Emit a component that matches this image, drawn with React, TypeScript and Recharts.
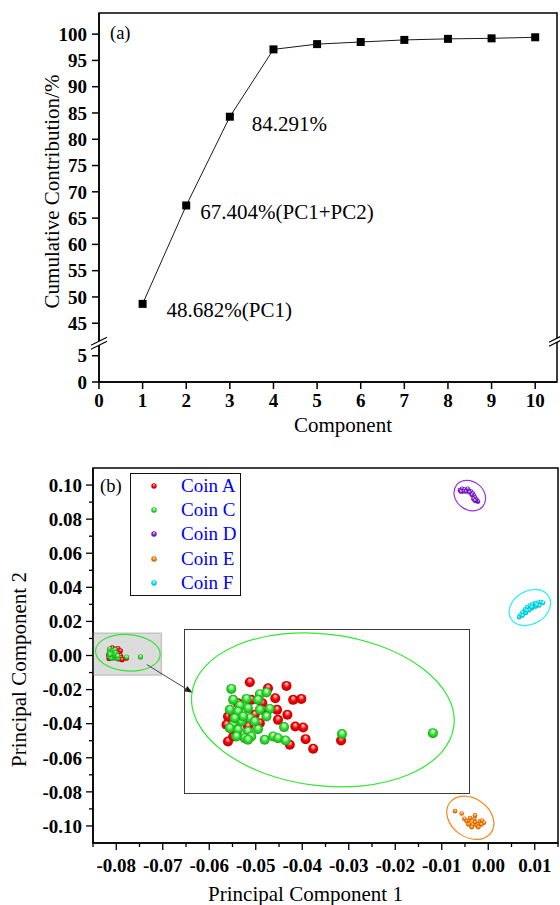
import React from "react";
import {
  LineChart,
  Line,
  ScatterChart,
  Scatter,
  XAxis,
  YAxis,
  ReferenceArea,
  ReferenceDot,
  ReferenceLine,
  Legend,
} from "recharts";

const FONT = "'Times New Roman', 'Liberation Serif', serif";

// ---- (a) cumulative contribution ----
const components = [1, 2, 3, 4, 5, 6, 7, 8, 9, 10];
const cumulative = [48.682, 67.404, 84.291, 97.1, 98.1, 98.5, 98.9, 99.1, 99.2, 99.4];
const xTicksA = [0, 1, 2, 3, 4, 5, 6, 7, 8, 9, 10];
const yTicksA = [0, 5, 45, 50, 55, 60, 65, 70, 75, 80, 85, 90, 95, 100];
const notes = ["48.682%(PC1)", "67.404%(PC1+PC2)", "84.291%"];
// pixel offset of each note from its point
const noteOffsets = [
  [24, 6],
  [14, 7],
  [22, 7],
];

// broken axis: the 5..45 gap is squeezed
const BREAK_SHIFT = 33.82;
const toAxis = (v: number) => (v > 20 ? v - BREAK_SHIFT : v);
const fromAxis = (t: number) => (t > 8 ? t + BREAK_SHIFT : t);

// ---- (b) PCA scores ----
const coinA = [
  [-0.08083, 0.00442], [-0.08023, 0.0038], [-0.07962, 0.00404], [-0.07999, 0.00277],
  [-0.0794, 0.0026], [-0.07913, 0.0027], [-0.07993, 0.00157], [-0.07959, 0.00106],
  [-0.0799, 0.00054], [-0.07933, -0.00015], [-0.07907, -0.00025], [-0.07899, -0.00145],
  [-0.07951, -0.00203], [-0.07874, -0.00244], [-0.07782, -0.00159], [-0.08155, -0.00169],
  [-0.08155, 0.00088], [-0.0816, 0.00003], [-0.08138, 0.00106], [-0.08122, 0.00226],
  [-0.08078, 0.0026], [-0.08042, 0.00226], [-0.0805, 0.0002], [-0.08138, -0.00117],
  [-0.08127, -0.00083], [-0.08067, 0.00106], [-0.08039, 0.00157], [-0.08089, -0.00015],
];
const coinC = [
  [-0.08144, 0.00373], [-0.08138, 0.0026], [-0.08116, 0.002], [-0.08094, 0.0027],
  [-0.0805, 0.00318], [-0.08028, 0.00335], [-0.08056, 0.0026], [-0.08149, 0.00157],
  [-0.08122, 0.0014], [-0.08089, 0.00174], [-0.0805, 0.00157], [-0.08017, 0.00167],
  [-0.08028, 0.00088], [-0.08083, 0.00071], [-0.08111, 0.00037], [-0.08138, 0.00003],
  [-0.08149, -0.00032], [-0.08122, -0.00049], [-0.08089, -0.00066], [-0.08056, -0.00042],
  [-0.08078, -0.00117], [-0.081, -0.00135], [-0.08127, -0.00117], [-0.08089, -0.00152],
  [-0.08034, -0.00152], [-0.08006, -0.00117], [-0.0799, -0.00135], [-0.07965, -0.00159],
  [-0.0797, -0.00021], [-0.07779, -0.00093], [-0.07479, -0.00083], [-0.08067, 0.00037],
  [-0.08105, 0.00088], [-0.08133, 0.00071],
];
const coinD = [
  [-0.00607, 0.097], [-0.00564, 0.0978], [-0.00514, 0.0974], [-0.00464, 0.097],
  [-0.00414, 0.0966], [-0.00371, 0.0962], [-0.00335, 0.0952], [-0.00307, 0.0939],
  [-0.00285, 0.0925], [-0.00249, 0.0913], [-0.00221, 0.0903], [-0.00264, 0.0907],
  [-0.00321, 0.0919], [-0.00356, 0.0943], [-0.00407, 0.0958], [-0.00485, 0.0962],
  [-0.00549, 0.0962], [-0.00592, 0.0962], [-0.00442, 0.0978], [-0.00292, 0.0909],
];
const coinE = [
  [-0.00714, -0.0913], [-0.00571, -0.0927], [-0.00514, -0.0958], [-0.00464, -0.0973],
  [-0.00414, -0.0968], [-0.00378, -0.0983], [-0.00335, -0.0993], [-0.00285, -0.0977],
  [-0.00249, -0.0997], [-0.00206, -0.0987], [-0.00178, -0.0973], [-0.00135, -0.0968],
  [-0.00092, -0.0981], [-0.00149, -0.0991], [-0.00299, -0.0958], [-0.00356, -0.1007],
  [-0.00428, -0.0991], [-0.00214, -0.1007], [-0.00285, -0.0938], [-0.00392, -0.0954],
];
const coinF = [
  [0.00665, 0.0225], [0.00694, 0.0239], [0.00737, 0.0254], [0.00787, 0.027],
  [0.00837, 0.0284], [0.00894, 0.0293], [0.00951, 0.0301], [0.01008, 0.0307],
  [0.01072, 0.0311], [0.0113, 0.0313], [0.0118, 0.0309], [0.00737, 0.0235],
  [0.00808, 0.025], [0.0088, 0.0266], [0.00951, 0.0278], [0.01023, 0.0288],
  [0.01094, 0.0293], [0.00823, 0.0264], [0.0093, 0.0284], [0.01037, 0.0299],
];
const xTicksB = [
  -0.085, -0.08, -0.075, -0.07, -0.065, -0.06, -0.055, -0.05, -0.045, -0.04, -0.035,
  -0.03, -0.025, -0.02, -0.015, -0.01, -0.005, 0, 0.005, 0.01, 0.015,
];
const yTicksB = [
  -0.1, -0.09, -0.08, -0.07, -0.06, -0.05, -0.04, -0.03, -0.02, -0.01, 0,
  0.01, 0.02, 0.03, 0.04, 0.05, 0.06, 0.07, 0.08, 0.09, 0.1,
];
// confidence ellipses: centre, semi-axes (data units), tilt in degrees
const ellipsesMain = [
  { cx: -0.0775, cy: 0.0016, rx: 0.00697, ry: 0.0107, angle: 4, color: "#33e633" },
  { cx: -0.00397, cy: 0.0938, rx: 0.00364, ry: 0.00821, angle: 40, color: "#9a32e6" },
  { cx: 0.00894, cy: 0.02815, rx: 0.00472, ry: 0.00968, angle: -30, color: "#22eef5" },
  { cx: -0.00386, cy: -0.0952, rx: 0.00549, ry: 0.01132, angle: 36, color: "#f7861c" },
];
const ellipseInset = { cx: -0.07842, cy: 0.00157, rx: 0.004354, ry: 0.00782, angle: 7, color: "#33e633" };
const zoomBox = { x1: -0.085, x2: -0.0703, y1: -0.0114, y2: 0.0131 };
const arrow = [
  { x: -0.07344, y: -0.00528 },
  { x: -0.06358, y: -0.02188 },
];
const insetX = [-0.083, -0.0736];
const insetY = [-0.007, 0.0098];

const coins = [
  { name: "Coin A", data: coinA, id: "red", color: "#ff0000", light: "#ff9090", dark: "#b80000" },
  { name: "Coin C", data: coinC, id: "green", color: "#33e633", light: "#b0ffb0", dark: "#1ca01c" },
  { name: "Coin D", data: coinD, id: "purple", color: "#8a1fe0", light: "#d6a8ff", dark: "#5a0a9a" },
  { name: "Coin E", data: coinE, id: "orange", color: "#ff8000", light: "#ffc890", dark: "#c05a00" },
  { name: "Coin F", data: coinF, id: "cyan", color: "#00f0ff", light: "#c0ffff", dark: "#00aabb" },
];

const toPoints = (pairs: number[][]) => pairs.map(([x, y]) => ({ x, y }));

const tickStyle = { fill: "#000", fontSize: 19, fontWeight: 700, fontFamily: FONT };
const axisStroke = { stroke: "#000", strokeWidth: 1.5 };

const Gradients = () => (
  <defs>
    {coins.map((c) => (
      <radialGradient key={c.id} id={`ball-${c.id}`} cx="0.5" cy="0.5" r="0.5" fx="0.5" fy="0.25">
        <stop offset="0" stopColor="#ffffff" />
        <stop offset="0.22" stopColor={c.light} />
        <stop offset="0.55" stopColor={c.color} />
        <stop offset="1" stopColor={c.dark} />
      </radialGradient>
    ))}
  </defs>
);

const ballShape = (id: string, color: string, r: number) => (p: any) => (
  <circle cx={p.cx} cy={p.cy} r={r} fill={`url(#ball-${id}) ${color}`} />
);

const ellipseShape = (e: any) => (p: any) => {
  const cx = p.x + p.width / 2;
  const cy = p.y + p.height / 2;
  return (
    <ellipse
      cx={cx}
      cy={cy}
      rx={Math.abs(p.width / 2)}
      ry={Math.abs(p.height / 2)}
      transform={`rotate(${e.angle} ${cx} ${cy})`}
      fill="none"
      stroke={e.color}
      strokeWidth={1.2}
    />
  );
};

const squareDot = (p: any) => (
  <rect key={`sq-${p.index}`} x={p.cx - 4} y={p.cy - 4} width={8} height={8} fill="#000" />
);

const BreakMark = (p: any) => {
  const { cx, cy } = p;
  return (
    <g>
      <polygon
        points={`${cx - 8},${cy + 2} ${cx + 8},${cy - 6} ${cx + 8},${cy - 2} ${cx - 8},${cy + 6}`}
        fill="#fff"
      />
      <line x1={cx - 8} y1={cy + 2} x2={cx + 8} y2={cy - 6} stroke="#000" strokeWidth={1.2} />
      <line x1={cx - 8} y1={cy + 6} x2={cx + 8} y2={cy - 2} stroke="#000" strokeWidth={1.2} />
    </g>
  );
};

const ArrowShape = (p: any) => {
  const { x1, y1, x2, y2 } = p;
  const a = Math.atan2(y2 - y1, x2 - x1);
  const L = 8;
  const W = 3;
  const bx = x2 - L * Math.cos(a);
  const by = y2 - L * Math.sin(a);
  const nx = -Math.sin(a) * W;
  const ny = Math.cos(a) * W;
  return (
    <g>
      <line x1={x1} y1={y1} x2={bx} y2={by} stroke="#333" strokeWidth={0.9} />
      <polygon points={`${x2},${y2} ${bx + nx},${by + ny} ${bx - nx},${by - ny}`} fill="#222" />
    </g>
  );
};

const xTitle = (text: string, dx: number, dy: number) => (props: any) => {
  const vb = props.viewBox;
  return (
    <text
      x={vb.x + vb.width / 2 + dx}
      y={vb.y + dy}
      textAnchor="middle"
      dominantBaseline="central"
      fontSize={21}
      fontFamily={FONT}
      fill="#000"
    >
      {text}
    </text>
  );
};

const yTitle = (text: string, x: number, dy: number) => (props: any) => {
  const vb = props.viewBox;
  const cx = vb.x + x;
  const cy = vb.y + vb.height / 2 + dy;
  return (
    <text
      x={cx}
      y={cy}
      transform={`rotate(-90 ${cx} ${cy})`}
      textAnchor="middle"
      dominantBaseline="central"
      fontSize={21}
      fontFamily={FONT}
      fill="#000"
    >
      {text}
    </text>
  );
};

const isMajor = (v: number, step: number) => {
  const k = v / step;
  return Math.abs(k - Math.round(k)) < 1e-6;
};

const X_TICK = 7;
const X_MARGIN = 9;
const XTickB = (p: any) => {
  const v = p.payload.value;
  const major = isMajor(v, 0.01);
  const axisY = p.y - X_TICK - X_MARGIN;
  return (
    <g>
      <line x1={p.x} x2={p.x} y1={axisY} y2={axisY + (major ? 7 : 4)} stroke="#000" strokeWidth={1.3} />
      {major && (
        <text x={p.x} y={p.y} dy="0.71em" textAnchor="middle" {...tickStyle}>
          {v.toFixed(2)}
        </text>
      )}
    </g>
  );
};

const Y_TICK = 7;
const Y_MARGIN = 4;
const YTickB = (p: any) => {
  const v = p.payload.value;
  const major = isMajor(v, 0.02);
  const axisX = p.x + Y_TICK + Y_MARGIN;
  return (
    <g>
      <line x1={axisX - (major ? 7 : 4)} x2={axisX} y1={p.y} y2={p.y} stroke="#000" strokeWidth={1.3} />
      {major && (
        <text x={p.x} y={p.y} dy="0.355em" textAnchor="end" {...tickStyle}>
          {v.toFixed(2)}
        </text>
      )}
    </g>
  );
};

const LegendBox = (props: any) => (
  <div
    style={{
      width: 111,
      height: 123,
      border: "1.5px solid #111",
      boxSizing: "border-box",
      background: "#fff",
    }}
  >
    {(props.payload || []).map((entry: any) => {
      const c = coins.find((k) => k.name === entry.value)!;
      return (
        <div key={entry.value} style={{ display: "flex", alignItems: "center", height: 24.2 }}>
          <svg width={50} height={10} style={{ display: "block" }}>
            <circle cx={23} cy={5} r={2.7} fill={`url(#ball-${c.id}) ${c.color}`} />
          </svg>
          <span style={{ color: "#0000ff", fontSize: 19, fontFamily: FONT, lineHeight: "24px" }}>
            {entry.value}
          </span>
        </div>
      );
    })}
  </div>
);

function CumulativeChart() {
  const data = components.map((c, i) => ({ component: c, value: toAxis(cumulative[i]) }));
  return (
    <div style={{ position: "absolute", left: 0, top: 0 }}>
      <LineChart width={560} height={441} data={data} margin={{ top: 13, right: 3, bottom: 0, left: 0 }}>
        <XAxis
          dataKey="component"
          type="number"
          domain={[0, 10.5]}
          ticks={xTicksA}
          interval={0}
          allowDataOverflow
          height={59}
          axisLine={axisStroke}
          tickLine={axisStroke}
          tickSize={7}
          tickMargin={5}
          tick={tickStyle}
          label={xTitle("Component", 15, 43)}
        />
        <YAxis
          type="number"
          domain={[0, 70.2]}
          ticks={yTicksA.map(toAxis)}
          interval={0}
          allowDataOverflow
          width={99}
          axisLine={axisStroke}
          tickLine={axisStroke}
          tickSize={7}
          tickMargin={5}
          tick={tickStyle}
          tickFormatter={(t: number) => String(Math.round(fromAxis(t)))}
          label={yTitle("Cumulative Contribution/%", 52, -6)}
        />
        <ReferenceArea x1={0} x2={10.5} y1={0} y2={70.2} fill="none" stroke="#000" strokeWidth={1.5} ifOverflow="visible" />
        <Line
          type="linear"
          dataKey="value"
          stroke="#000"
          strokeWidth={0.9}
          dot={squareDot}
          activeDot={false}
          isAnimationActive={false}
        />
        {notes.map((text, i) => (
          <ReferenceDot
            key={text}
            x={components[i]}
            y={toAxis(cumulative[i])}
            ifOverflow="visible"
            shape={(p: any) => (
              <text
                x={p.cx + noteOffsets[i][0]}
                y={p.cy + noteOffsets[i][1]}
                dominantBaseline="central"
                fontSize={21}
                fontFamily={FONT}
                fill="#000"
              >
                {text}
              </text>
            )}
          />
        ))}
        <ReferenceDot x={0} y={7.37} ifOverflow="visible" shape={BreakMark} />
        <ReferenceDot x={10.5} y={7.95} ifOverflow="visible" shape={BreakMark} />
      </LineChart>
    </div>
  );
}

function ScoreChart() {
  return (
    <div style={{ position: "absolute", left: 0, top: 440 }}>
      <ScatterChart width={560} height={465} margin={{ top: 28, right: 2, bottom: 0, left: 0 }}>
        <Gradients />
        <XAxis
          type="number"
          dataKey="x"
          domain={[-0.085, 0.015]}
          ticks={xTicksB}
          interval={0}
          allowDataOverflow
          height={62}
          axisLine={axisStroke}
          tickLine={false}
          tickSize={X_TICK}
          tickMargin={X_MARGIN}
          tick={XTickB}
          label={xTitle("Principal Component 1", -20, 51)}
        />
        <YAxis
          type="number"
          dataKey="y"
          domain={[-0.11, 0.11]}
          ticks={yTicksB}
          interval={0}
          allowDataOverflow
          width={93}
          axisLine={axisStroke}
          tickLine={false}
          tickSize={Y_TICK}
          tickMargin={Y_MARGIN}
          tick={YTickB}
          label={yTitle("Principal Component 2", 19, 14)}
        />
        <ReferenceArea x1={-0.085} x2={0.015} y1={-0.11} y2={0.11} fill="none" stroke="#000" strokeWidth={1.5} ifOverflow="visible" />
        <ReferenceArea
          x1={zoomBox.x1}
          x2={zoomBox.x2}
          y1={zoomBox.y1}
          y2={zoomBox.y2}
          fill="#dcdcdc"
          fillOpacity={1}
          stroke="#c4c4c4"
          strokeWidth={1.5}
          ifOverflow="visible"
        />
        {ellipsesMain.map((e, i) => (
          <ReferenceArea
            key={i}
            x1={e.cx - e.rx}
            x2={e.cx + e.rx}
            y1={e.cy - e.ry}
            y2={e.cy + e.ry}
            ifOverflow="visible"
            shape={ellipseShape(e)}
          />
        ))}
        {coins.map((c) => (
          <Scatter
            key={c.id}
            name={c.name}
            data={toPoints(c.data)}
            fill={c.color}
            legendType="circle"
            shape={ballShape(c.id, c.color, c.id === "red" || c.id === "green" ? 2.6 : 2.3)}
            isAnimationActive={false}
          />
        ))}
        <ReferenceLine segment={arrow} ifOverflow="visible" shape={ArrowShape} />
        <Legend
          layout="vertical"
          align="center"
          verticalAlign="middle"
          content={LegendBox}
          wrapperStyle={{ left: 130, top: 33, width: 111, height: 123 }}
        />
      </ScatterChart>
    </div>
  );
}

function InsetChart() {
  return (
    <>
      <div
        style={{
          position: "absolute",
          left: 183.5,
          top: 629.2,
          width: 286.6,
          height: 164.8,
          border: "1.5px solid #3a3a3a",
          boxSizing: "border-box",
        }}
      />
      <div style={{ position: "absolute", left: 184.3, top: 630 }}>
        <ScatterChart width={285} height={163} margin={{ top: 0, right: 0, bottom: 0, left: 0 }}>
          <XAxis type="number" dataKey="x" domain={insetX} hide allowDataOverflow />
          <YAxis type="number" dataKey="y" domain={insetY} hide allowDataOverflow />
          <ReferenceArea
            x1={ellipseInset.cx - ellipseInset.rx}
            x2={ellipseInset.cx + ellipseInset.rx}
            y1={ellipseInset.cy - ellipseInset.ry}
            y2={ellipseInset.cy + ellipseInset.ry}
            ifOverflow="visible"
            shape={ellipseShape(ellipseInset)}
          />
          {coins.slice(0, 2).map((c) => (
            <Scatter
              key={c.id}
              name={c.name}
              data={toPoints(c.data)}
              fill={c.color}
              shape={ballShape(c.id, c.color, 5)}
              isAnimationActive={false}
            />
          ))}
        </ScatterChart>
      </div>
    </>
  );
}

export default function App() {
  return (
    <div style={{ position: "absolute", left: 0, top: 0, width: 560, height: 905, background: "#fff" }}>
      <CumulativeChart />
      <ScoreChart />
      <InsetChart />
      <svg width={560} height={905} style={{ position: "absolute", left: 0, top: 0, pointerEvents: "none" }}>
        <text x={110} y={32.5} dominantBaseline="central" fontSize={18.5} fontFamily={FONT} fill="#000">
          (a)
        </text>
        <text x={100} y={485.7} dominantBaseline="central" fontSize={18.5} fontFamily={FONT} fill="#000">
          (b)
        </text>
      </svg>
    </div>
  );
}
